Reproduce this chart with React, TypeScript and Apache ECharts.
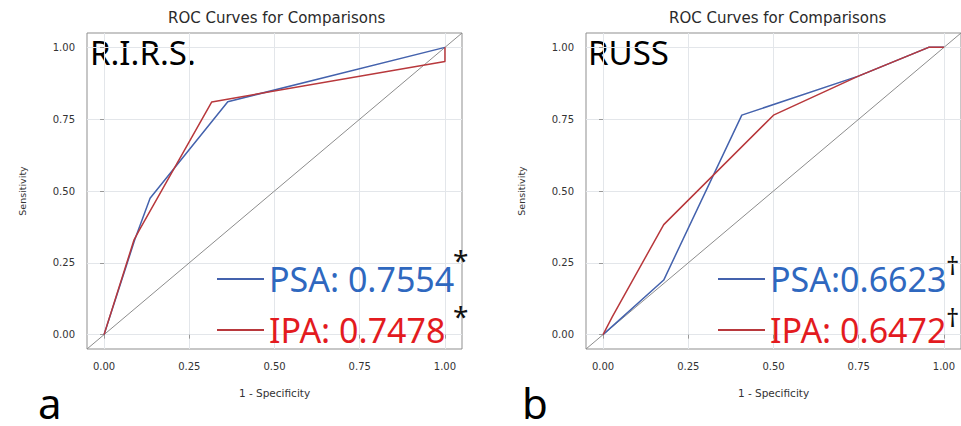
import React, { useEffect, useRef } from "react";
import * as echarts from "echarts";

// ---- data ----
const panelTitles = ["ROC Curves for Comparisons", "ROC Curves for Comparisons"];
const panelLabels = ["R.I.R.S.", "RUSS"];
const panelLetters = ["a", "b"];
const tickValues = [0, 0.25, 0.5, 0.75, 1];
const xAxisName = "1 - Specificity";
const yAxisName = "Sensitivity";
const diagonalX = [-0.05, 1.05];
const diagonalY = [-0.05, 1.05];

const rirsPsaName = "PSA: 0.7554";
const rirsIpaName = "IPA: 0.7478";
const rirsPsaX = [0, 0.09, 0.135, 0.363, 1.0];
const rirsPsaY = [0, 0.33, 0.475, 0.811, 1.0];
const rirsIpaX = [0, 0.088, 0.103, 0.316, 1.0, 1.0];
const rirsIpaY = [0, 0.33, 0.363, 0.81, 0.951, 1.0];
const rirsMark = "*";

const russPsaName = "PSA:0.6623";
const russIpaName = "IPA: 0.6472";
const russPsaX = [0, 0.178, 0.407, 0.749, 0.955, 1.0];
const russPsaY = [0, 0.19, 0.764, 0.9, 1.0, 1.0];
const russIpaX = [0, 0.027, 0.178, 0.5, 0.749, 0.955, 1.0];
const russIpaY = [0, 0.062, 0.383, 0.764, 0.9, 1.0, 1.0];
const russMark = "\u2020";

const zip = (xs: number[], ys: number[]) => xs.map((x, i) => [x, ys[i]]);

const BLUE_LINE = "#4462ad";
const RED_LINE = "#b8383c";
const BLUE_TEXT = "#2f68bf";
const RED_TEXT = "#e31b1f";
const GRID_LINE = "#e3e6ea";
const DIAG = "#8c8c8c";

const gridBoxes = [
  { left: 87, top: 33, width: 375, height: 316 },
  { left: 586, top: 33, width: 376, height: 316 },
];

function axisCommon(gridIndex: number) {
  return {
    type: "value" as const,
    gridIndex,
    min: -0.05,
    max: 1.05,
    axisLine: { show: false },
    axisTick: {
      show: true,
      customValues: tickValues,
      length: 4,
      lineStyle: { color: "#999" },
    },
    axisLabel: {
      customValues: tickValues,
      formatter: (v: number) => v.toFixed(2),
      fontFamily: "DejaVu Sans",
      fontSize: 10,
      color: "#333",
      margin: 12,
    },
    splitLine: { show: true, lineStyle: { color: GRID_LINE, width: 1 } },
  };
}

const bigText = (text: string, x: number, y: number, size: number, fill = "#000") => ({
  type: "text",
  x,
  y,
  style: {
    text,
    font: `${size}px "Noto Sans"`,
    fill,
    lineWidth: 0,
    stroke: "none",
    lineHeight: Math.round(size * 0.75),
    verticalAlign: "middle",
  },
});

export default function App() {
  const ref = useRef<HTMLDivElement>(null);
  useEffect(() => {
    document.body.style.margin = "0";
    const chart = echarts.init(ref.current!, undefined, { renderer: "svg" });
    const lineSeries = (
      name: string,
      xs: number[],
      ys: number[],
      color: string,
      idx: number,
      width = 1.5
    ) => ({
      type: "line" as const,
      name,
      xAxisIndex: idx,
      yAxisIndex: idx,
      data: zip(xs, ys),
      color,
      symbol: "none",
      showSymbol: false,
      lineStyle: { color, width },
    });

    const titleCenters = [276, 777];
    const titleWidth = 216;

    chart.setOption({
      animation: false,
      backgroundColor: "#ffffff",
      title: titleCenters.map((c, i) => ({
        text: panelTitles[i],
        left: c - titleWidth / 2,
        top: 10,
        padding: 0,
        textStyle: {
          fontFamily: "DejaVu Sans",
          fontSize: 15,
          fontWeight: "normal",
          color: "#2a2a2a",
        },
      })),
      grid: gridBoxes.map((g) => ({
        ...g,
        show: true,
        borderColor: "#8f8f8f",
        borderWidth: 1,
        backgroundColor: "#ffffff",
        containLabel: false,
      })),
      xAxis: [0, 1].map((i) => ({
        ...axisCommon(i),
        name: xAxisName,
        nameLocation: "middle",
        nameGap: 38,
        nameTextStyle: { fontFamily: "DejaVu Sans", fontSize: 10.5, color: "#333" },
      })),
      yAxis: [0, 1].map((i) => ({
        ...axisCommon(i),
        name: yAxisName,
        nameLocation: "middle",
        nameGap: 60,
        nameTextStyle: { fontFamily: "DejaVu Sans", fontSize: 9.5, color: "#333" },
      })),
      legend: [
        { names: [rirsPsaName, rirsIpaName], left: 212 },
        { names: [russPsaName, russIpaName], left: 713 },
      ].map((l) => ({
        orient: "vertical",
        left: l.left,
        top: 257,
        padding: 5,
        itemWidth: 47,
        itemHeight: 2,
        itemGap: 17,
        icon: "rect",
        selectedMode: false,
        textStyle: { fontFamily: "Noto Sans", fontSize: 34 },
        data: [
          { name: l.names[0], textStyle: { color: BLUE_TEXT } },
          { name: l.names[1], textStyle: { color: RED_TEXT } },
        ],
      })),
      series: [
        lineSeries("diag-a", diagonalX, diagonalY, DIAG, 0, 1),
        lineSeries(rirsPsaName, rirsPsaX, rirsPsaY, BLUE_LINE, 0),
        lineSeries(rirsIpaName, rirsIpaX, rirsIpaY, RED_LINE, 0),
        lineSeries("diag-b", diagonalX, diagonalY, DIAG, 1, 1),
        lineSeries(russPsaName, russPsaX, russPsaY, BLUE_LINE, 1),
        lineSeries(russIpaName, russIpaX, russIpaY, RED_LINE, 1),
      ],
      graphic: [
        bigText(panelLabels[0], 90, 52, 33),
        bigText(panelLabels[1], 588, 52, 33),
        bigText(panelLetters[0], 38, 402, 42),
        bigText(panelLetters[1], 522, 402, 42),
        bigText(rirsMark, 453, 260, 28, "#111"),
        bigText(rirsMark, 453, 316, 28, "#111"),
        bigText(russMark, 946, 265, 26, "#111"),
        bigText(russMark, 946, 317, 26, "#111"),
      ],
    });
    return () => chart.dispose();
  }, []);
  return <div ref={ref} style={{ width: 961, height: 426 }} />;
}
